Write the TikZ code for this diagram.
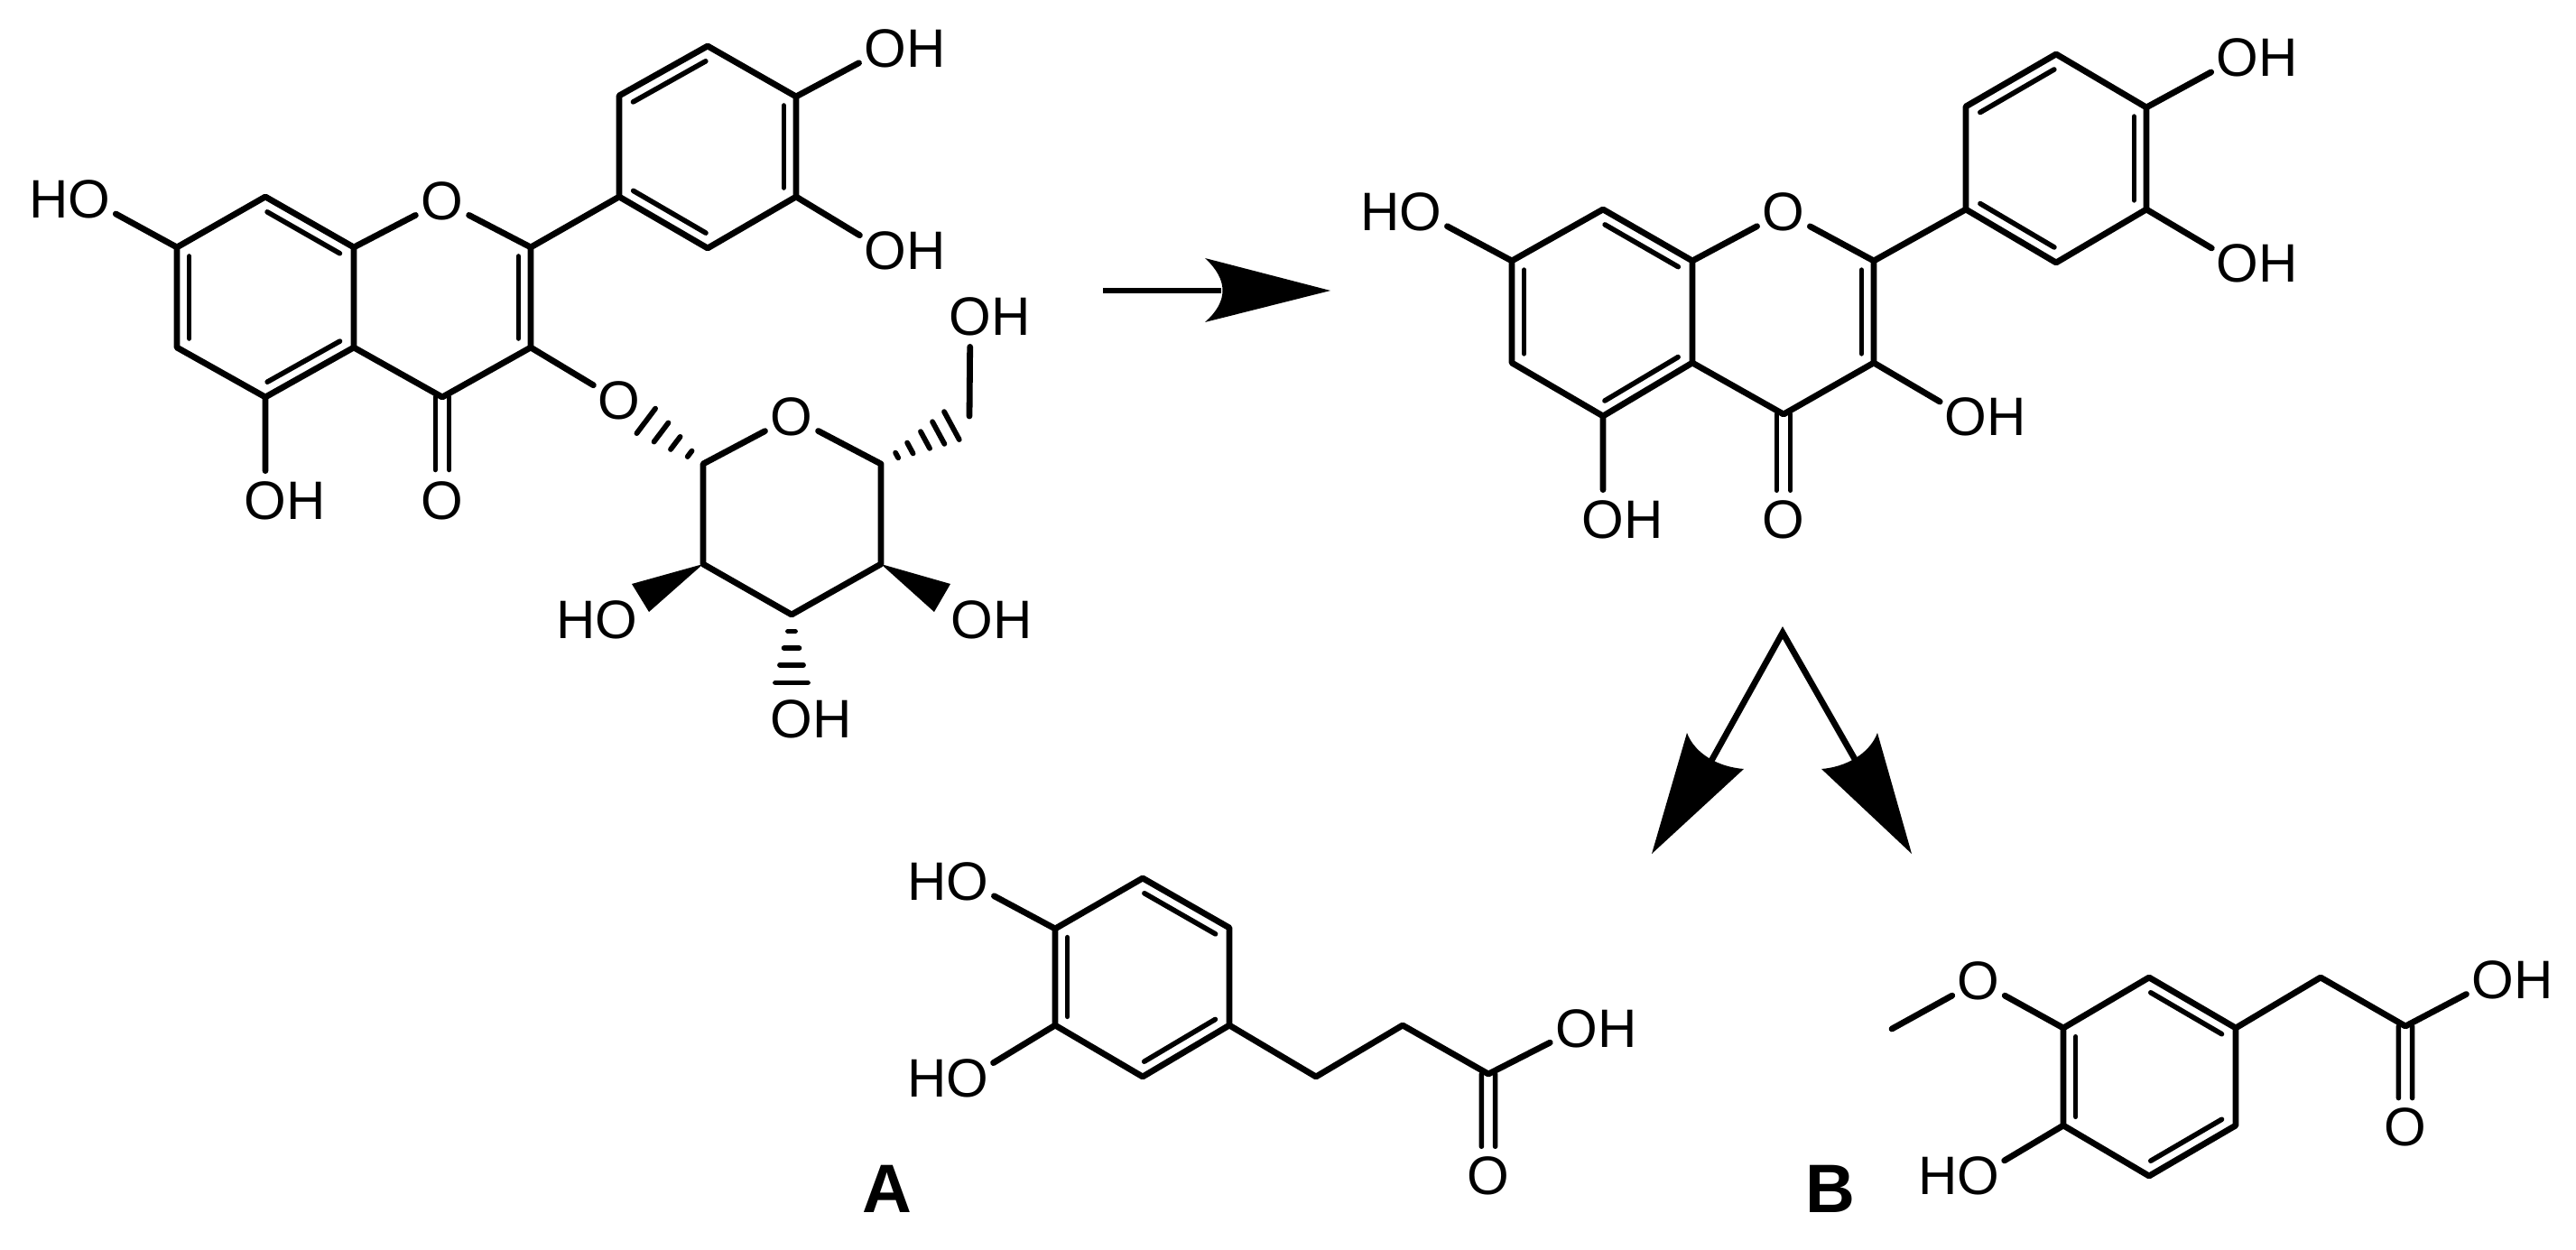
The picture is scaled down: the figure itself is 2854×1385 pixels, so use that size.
\documentclass[tikz,border=0pt]{standalone}
\usepackage{fontspec}
\setmainfont{Liberation Sans}
\usetikzlibrary{calc}
\tikzset{
  bond/.style={line width=3.4pt,line cap=round,line join=round,black},
  innerbond/.style={line width=2.8pt,line cap=round,black},
  hashdash/.style={line width=2.9pt,line cap=round,black},
  atom/.style={circle,inner sep=0pt,minimum size=33pt,font=\fontsize{30}{30}\selectfont},
  plabel/.style={inner sep=0pt,font=\bfseries\fontsize{38}{38}\selectfont},
  arrowline/.style={line width=3.4pt,black},
  arrowfill/.style={fill=black,draw=none}
}
\newcommand{\dblin}[2]{\draw[innerbond] ($(#1)!.09!(#2)!6.8pt!-90:(#2)$) -- ($(#1)!.91!(#2)!6.8pt!-90:(#2)$);}
\newcommand{\cdbl}[3]{%
  \draw[innerbond] ($(#1)!3.8pt!90:(#2)$) -- ($(#1)!#3!(#2)!3.8pt!90:(#2)$);
  \draw[innerbond] ($(#1)!3.8pt!-90:(#2)$) -- ($(#1)!#3!(#2)!3.8pt!-90:(#2)$);}
\newcommand{\hashb}[3]{\foreach \tt/\ww in {#3}{\draw[hashdash] ($(#1)!\tt!(#2)!\ww pt!90:(#2)$) -- ($(#1)!\tt!(#2)!\ww pt!-90:(#2)$);}}
\begin{document}
\begin{tikzpicture}[x=0.5pt,y=-0.5pt]
\useasboundingbox[fill=white] (0,0) rectangle (2854,1385);
% ---------- glycoside
\coordinate (a7) at (196,274);
\coordinate (a8) at (294,218);
\coordinate (a8a) at (392,274);
\coordinate (a2) at (588,274);
\coordinate (a3) at (588,385);
\coordinate (a4) at (490,440);
\coordinate (a4a) at (392,385);
\coordinate (a5) at (294,440);
\coordinate (a6) at (196,385);
\coordinate (a1p) at (686,218);
\coordinate (a2p) at (686,106);
\coordinate (a3p) at (784,51);
\coordinate (a4p) at (882,107);
\coordinate (a5p) at (882,218);
\coordinate (a6p) at (784,275);
\node[atom] (aO1) at (490,223) {O};
\node[atom] (aO7) at (99,221) {\llap{H}O};
\node[atom] (aO5) at (294,555) {O\rlap{H}};
\node[atom] (aO4) at (490,555) {O};
\node[atom] (aO3) at (686,444) {O};
\node[atom] (aOa) at (981,54) {O\rlap{H}};
\node[atom] (aOb) at (981,278) {O\rlap{H}};
\draw[bond] (a7)--(a8)--(a8a)--(a4a)--(a5)--(a6)--cycle;
\draw[bond] (a8a)--(aO1)--(a2)--(a3)--(a4)--(a4a);
\draw[bond] (a2)--(a1p)--(a2p)--(a3p)--(a4p)--(a5p)--(a6p)--(a1p);
\draw[bond] (a7)--(aO7) (a5)--(aO5) (a4p)--(aOa) (a5p)--(aOb) (a3)--(aO3);
\dblin{a8}{a8a}\dblin{a4a}{a5}\dblin{a6}{a7}\dblin{a2}{a3}
\dblin{a2p}{a3p}\dblin{a4p}{a5p}\dblin{a6p}{a1p}
\cdbl{a4}{aO4}{.7}
% sugar
\coordinate (s1) at (779,514);
\coordinate (s5) at (976,514);
\coordinate (s4) at (976,625);
\coordinate (s3) at (877,681);
\coordinate (s2) at (779,625);
\coordinate (s6) at (1074,461);
\node[atom] (sO) at (877,462) {O};
\node[atom] (sOa) at (1075,351) {O\rlap{H}};
\node[atom] (sOb) at (1077,687) {O\rlap{H}};
\node[atom] (sOc) at (877,797) {O\rlap{H}};
\node[atom] (sOd) at (683,687) {\llap{H}O};
\draw[bond] (s5)--(s4)--(s3)--(s2)--(s1)--(sO)--(s5);
\draw[bond] (s6)--(sOa);
\fill[black] (s2) -- (700,647) -- (719,678) -- cycle;
\fill[black] (s4) -- (1053,647) -- (1035,678) -- cycle;
\hashb{s1}{aO3}{.16/2,.33/4.4,.50/6.6,.68/8.6}
\hashb{s5}{s6}{.18/1.6,.33/3.4,.50/5.3,.65/7,.80/8.8}
\hashb{s3}{sOc}{.16/2,.32/4.2,.48/6.5,.65/9}
% ---------- arrow 1
\coordinate (p1) at (1222,322);
\coordinate (p2) at (1353,322);
\draw[arrowline] (p1)--(p2);
\fill[arrowfill] (1474,322) -- (1335,286) .. controls (1361,310) and (1361,334) .. (1335,357) -- cycle;
% ---------- aglycone
\begin{scope}[shift={(-5,0)}]
\coordinate (b7) at (1680,289);
\coordinate (b8) at (1781,232);
\coordinate (b8a) at (1880,289);
\coordinate (b2) at (2081,289);
\coordinate (b3) at (2081,402);
\coordinate (b4) at (1981,459);
\coordinate (b4a) at (1880,402);
\coordinate (b5) at (1781,461);
\coordinate (b6) at (1680,402);
\coordinate (b1p) at (2183,232);
\coordinate (b2p) at (2183,118);
\coordinate (b3p) at (2283,60);
\coordinate (b4p) at (2383,119);
\coordinate (b5p) at (2383,232);
\coordinate (b6p) at (2283,291);
\node[atom] (bO1) at (1981,235) {O};
\node[atom] (bO7) at (1579,235) {\llap{H}O};
\node[atom] (bO5) at (1781,576) {O\rlap{H}};
\node[atom] (bO4) at (1981,576) {O};
\node[atom] (bO3) at (2183,462) {O\rlap{H}};
\node[atom] (bOa) at (2484,64) {O\rlap{H}};
\node[atom] (bOb) at (2484,292) {O\rlap{H}};
\end{scope}
\draw[bond] (b7)--(b8)--(b8a)--(b4a)--(b5)--(b6)--cycle;
\draw[bond] (b8a)--(bO1)--(b2)--(b3)--(b4)--(b4a);
\draw[bond] (b2)--(b1p)--(b2p)--(b3p)--(b4p)--(b5p)--(b6p)--(b1p);
\draw[bond] (b7)--(bO7) (b5)--(bO5) (b4p)--(bOa) (b5p)--(bOb) (b3)--(bO3);
\dblin{b8}{b8a}\dblin{b4a}{b5}\dblin{b6}{b7}\dblin{b2}{b3}
\dblin{b2p}{b3p}\dblin{b4p}{b5p}\dblin{b6p}{b1p}
\cdbl{b4}{bO4}{.72}
% ---------- fork arrows
\coordinate (q0) at (1975,701);
\coordinate (ql) at (1896,843);
\coordinate (qr) at (2056,843);
\draw[arrowline,line join=miter] (ql)--(q0)--(qr);
\fill[arrowfill] (1830,946) -- (1869,812) .. controls (1878,836) and (1905,850) .. (1932,852) -- cycle;
\fill[arrowfill] (2118,946) -- (2080,812) .. controls (2071,836) and (2044,850) .. (2018,852) -- cycle;
% ---------- A
\begin{scope}[shift={(-3,0)}]
\coordinate (c4) at (1172,1029);
\coordinate (c5) at (1269,973);
\coordinate (c6) at (1365,1028);
\coordinate (c1) at (1365,1136);
\coordinate (c2) at (1269,1193);
\coordinate (c3) at (1172,1136);
\coordinate (ca) at (1461,1193);
\coordinate (cb) at (1557,1136);
\coordinate (cc) at (1652,1190);
\node[atom] (cOa) at (1075,977) {\llap{H}O};
\node[atom] (cOb) at (1075,1195) {\llap{H}O};
\node[atom] (cOc) at (1750,1140) {O\rlap{H}};
\node[atom] (cOd) at (1652,1303) {O};
\end{scope}
\draw[bond] (c4)--(c5)--(c6)--(c1)--(c2)--(c3)--cycle;
\draw[bond] (c1)--(ca)--(cb)--(cc)--(cOc) (c4)--(cOa) (c3)--(cOb);
\dblin{c5}{c6}\dblin{c1}{c2}\dblin{c3}{c4}
\cdbl{cc}{cOd}{.71}
\node[plabel] (labA) at (983,1317) {A};
% ---------- B
\begin{scope}[shift={(-4,0)}]
\coordinate (d3) at (2290,1139);
\coordinate (d2) at (2385,1083);
\coordinate (d1) at (2481,1139);
\coordinate (d6) at (2481,1247);
\coordinate (d5) at (2385,1303);
\coordinate (d4) at (2290,1247);
\coordinate (da) at (2575,1083);
\coordinate (dc) at (2669,1137);
\coordinate (dm) at (2100,1140);
\node[atom] (dOa) at (2196,1087) {O};
\node[atom] (dOb) at (2196,1303) {\llap{H}O};
\node[atom] (dOc) at (2766,1086) {O\rlap{H}};
\node[atom] (dOd) at (2669,1249) {O};
\end{scope}
\draw[bond] (d3)--(d2)--(d1)--(d6)--(d5)--(d4)--cycle;
\draw[bond] (d1)--(da)--(dc)--(dOc) (d3)--(dOa)--(dm) (d4)--(dOb);
\dblin{d2}{d1}\dblin{d6}{d5}\dblin{d4}{d3}
\cdbl{dc}{dOd}{.71}
\node[plabel] (labB) at (2028,1317) {B};
\end{tikzpicture}
\end{document}
